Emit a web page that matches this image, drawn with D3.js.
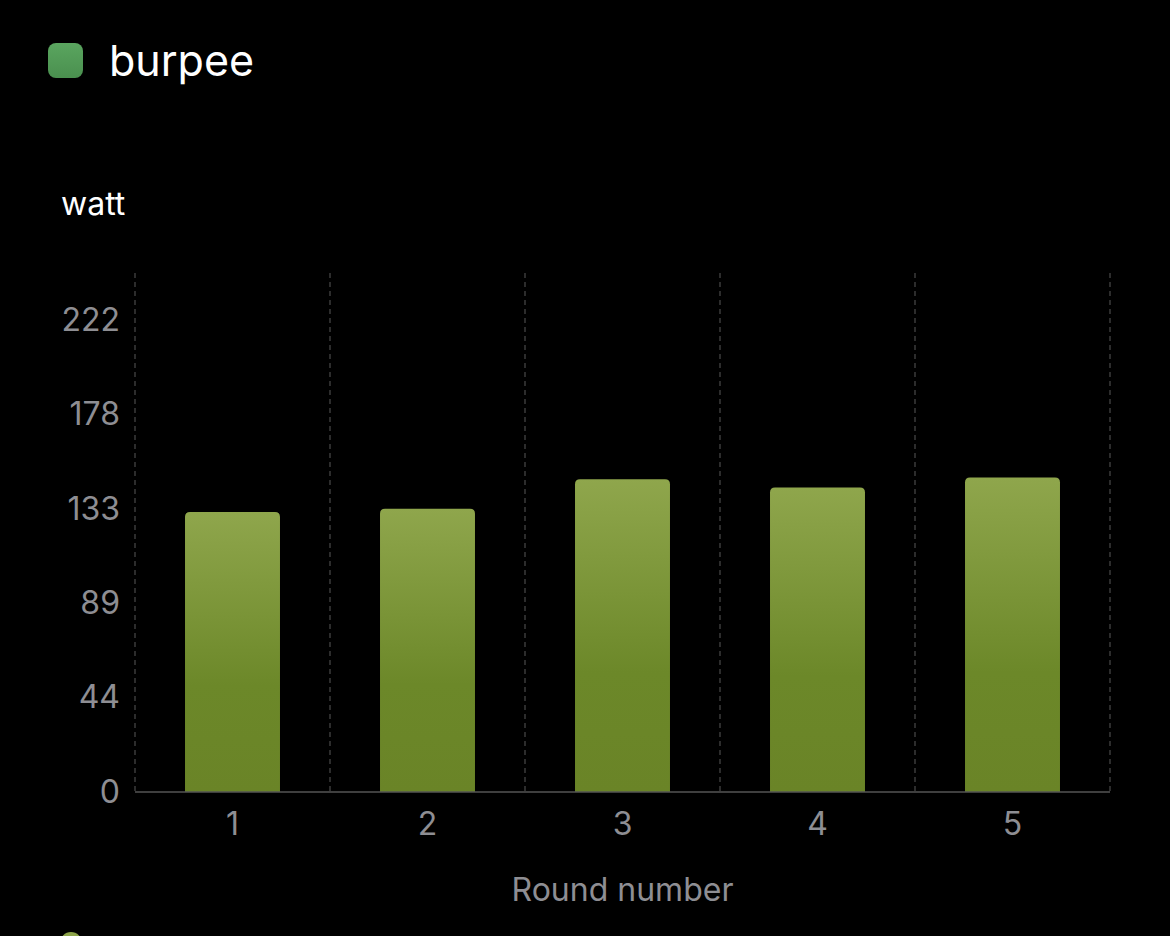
<!DOCTYPE html>
<html>
<head>
<meta charset="utf-8">
<script src="https://cdn.jsdelivr.net/npm/d3@7"></script>
<style>
  html, body { margin: 0; padding: 0; background: #000; }
  svg { display: block; font-family: Inter, "Noto Sans", sans-serif; }
</style>
</head>
<body>
<div id="chart"></div>
<script>
// burpee power per round

var rounds = ["1", "2", "3", "4", "5"];
var watts = [131.8, 133.3, 147.1, 143.3, 148];
var tickValues = [0, 44.4, 88.8, 133.2, 177.6, 222];
var tickLabels = ["0", "44", "89", "133", "178", "222"];
var seriesName = "burpee";

var width = 1170;
var height = 936;

var margin = { top: 273, right: 60, bottom: 144, left: 135 };
var innerWidth = width - margin.left - margin.right;
var innerHeight = height - margin.top - margin.bottom;

var svg = d3.select("#chart")
  .append("svg")
  .attr("width", width)
  .attr("height", height);

var defs = svg.append("defs");

var barGrad = defs.append("linearGradient")
  .attr("id", "barGrad")
  .attr("x1", 0).attr("y1", 0).attr("x2", 0).attr("y2", 1);
barGrad.append("stop").attr("offset", "0%").attr("stop-color", "#8fa64c");
barGrad.append("stop").attr("offset", "62%").attr("stop-color", "#6c8829");
barGrad.append("stop").attr("offset", "100%").attr("stop-color", "#6a8427");

var legGrad = defs.append("linearGradient")
  .attr("id", "legGrad")
  .attr("x1", 0).attr("y1", 0).attr("x2", 0).attr("y2", 1);
legGrad.append("stop").attr("offset", "0%").attr("stop-color", "#5aa55f");
legGrad.append("stop").attr("offset", "100%").attr("stop-color", "#4a904f");

// legend
svg.append("rect")
  .attr("x", 48).attr("y", 43)
  .attr("width", 35).attr("height", 35)
  .attr("rx", 8)
  .attr("fill", "url(#legGrad)");

svg.append("text")
  .attr("x", 109).attr("y", 76)
  .attr("fill", "#fff")
  .attr("font-size", 43)
  .text(seriesName);

// unit label
svg.append("text")
  .attr("x", 61).attr("y", 215)
  .attr("fill", "#fff")
  .attr("font-size", 32)
  .text("watt");

var chartGroup = svg.append("g")
  .attr("transform", "translate(" + margin.left + "," + margin.top + ")");

var xScale = d3.scaleBand()
  .domain(rounds)
  .range([0, innerWidth])
  .paddingInner(0)
  .paddingOuter(0);

var yScale = d3.scaleLinear()
  .domain([0, 222 * 1.1])
  .range([innerHeight, 0]);

// dashed vertical grid at band edges
var edges = rounds.map(function(d) { return xScale(d); }).concat([innerWidth]);
chartGroup.selectAll(".grid")
  .data(edges)
  .enter()
  .append("line")
  .attr("class", "grid")
  .attr("x1", function(d) { return d; })
  .attr("x2", function(d) { return d; })
  .attr("y1", 0)
  .attr("y2", innerHeight)
  .attr("stroke", "#4a4a4a")
  .attr("stroke-width", 1.2)
  .attr("stroke-dasharray", "5,4");

// bars with rounded top corners
var barW = xScale.bandwidth() * 0.487;
var r = 5;
chartGroup.selectAll(".bar")
  .data(watts)
  .enter()
  .append("path")
  .attr("class", "bar")
  .attr("fill", "url(#barGrad)")
  .attr("d", function(d, i) {
    var x0 = xScale(rounds[i]) + (xScale.bandwidth() - barW) / 2;
    var x1 = x0 + barW;
    var y0 = yScale(d);
    var y1 = yScale(0);
    return "M" + x0 + "," + y1 +
      "L" + x0 + "," + (y0 + r) +
      "Q" + x0 + "," + y0 + " " + (x0 + r) + "," + y0 +
      "L" + (x1 - r) + "," + y0 +
      "Q" + x1 + "," + y0 + " " + x1 + "," + (y0 + r) +
      "L" + x1 + "," + y1 + "Z";
  });

// baseline
chartGroup.append("line")
  .attr("x1", 0).attr("x2", innerWidth)
  .attr("y1", innerHeight).attr("y2", innerHeight)
  .attr("stroke", "#555")
  .attr("stroke-width", 1.5);

// y axis labels
var yAxis = d3.axisLeft(yScale)
  .tickValues(tickValues)
  .tickSize(0)
  .tickPadding(15)
  .tickFormat(function(d, i) { return tickLabels[i]; });

var yAxisGroup = chartGroup.append("g")
  .call(yAxis)
  .attr("font-size", 32)
  .attr("font-family", "Inter, 'Noto Sans', sans-serif");
yAxisGroup.select(".domain").remove();
yAxisGroup.selectAll("text").attr("fill", "#8e8e93");

// x axis labels
var xAxis = d3.axisBottom(xScale)
  .tickSize(0)
  .tickPadding(20);

var xAxisGroup = chartGroup.append("g")
  .attr("transform", "translate(0," + innerHeight + ")")
  .call(xAxis)
  .attr("font-size", 32)
  .attr("font-family", "Inter, 'Noto Sans', sans-serif");
xAxisGroup.select(".domain").remove();
xAxisGroup.selectAll("text").attr("fill", "#8e8e93");

// x title
svg.append("text")
  .attr("x", margin.left + innerWidth / 2)
  .attr("y", 901)
  .attr("text-anchor", "middle")
  .attr("fill", "#8e8e93")
  .attr("font-size", 32)
  .text("Round number");

// partial marker at the bottom edge
svg.append("circle")
  .attr("cx", 71).attr("cy", 943)
  .attr("r", 11)
  .attr("fill", "#8da449");
</script>
</body>
</html>
